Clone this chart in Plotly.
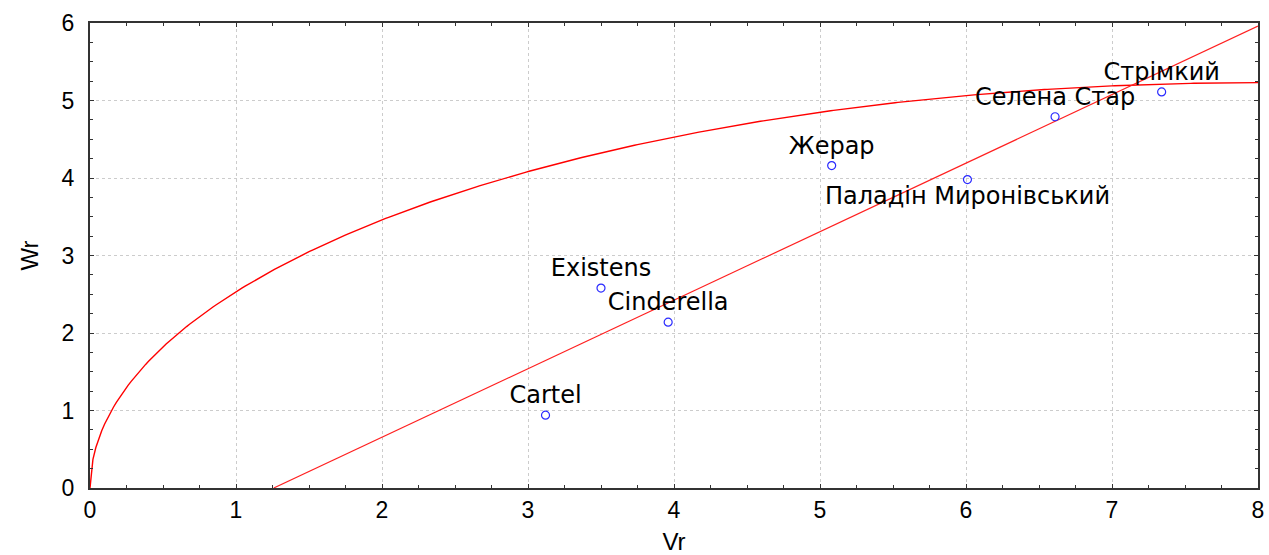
import numpy as np
import plotly.graph_objects as go

# Data
names = ["Cartel", "Existens", "Cinderella", "Жерар", "Паладін Миронівський", "Селена Стар", "Стрімкий"]
vr = [3.12, 3.50, 3.96, 5.08, 6.01, 6.61, 7.34]
wr = [0.94, 2.58, 2.14, 4.16, 3.98, 4.79, 5.11]
label_pos = ["top center", "top center", "top center", "top center", "bottom center", "top center", "top center"]

# Limiting curve parameters (quarter ellipse as drawn)
curve_vr_max = 8.0
curve_wr_max = 5.23

x_ticks = [0, 1, 2, 3, 4, 5, 6, 7, 8]
y_ticks = [0, 1, 2, 3, 4, 5, 6]

# Regression line from the points
slope, intercept = np.polyfit(vr, wr, 1)
x0 = -intercept / slope
lx = np.array([x0, 8.0])
ly = slope * lx + intercept

cx = np.linspace(0, curve_vr_max, 400)
cy = curve_wr_max * np.sqrt(np.clip(1 - ((cx - curve_vr_max) / curve_vr_max) ** 2, 0, None))

fig = go.Figure()
fig.add_trace(go.Scatter(x=cx, y=cy, mode="lines", line=dict(color="#ff0000", width=1.4),
                         hoverinfo="skip", showlegend=False))
fig.add_trace(go.Scatter(x=lx, y=ly, mode="lines", line=dict(color="#ff2020", width=1.2),
                         hoverinfo="skip", showlegend=False))
fig.add_trace(go.Scatter(x=vr, y=wr, mode="markers+text", text=names, textposition=label_pos,
                         marker=dict(symbol="circle-open", size=8, color="#2a2aff", line=dict(width=1.2)),
                         textfont=dict(family="DejaVu Sans", size=24, color="black"),
                         showlegend=False, cliponaxis=False))

axis_common = dict(
    showline=True, linecolor="#333333", linewidth=2, mirror="allticks",
    showgrid=True, gridcolor="#cccccc", griddash="dot", gridwidth=1,
    zeroline=False, ticks="inside", ticklen=4, tickcolor="#333333",
    minor=dict(dtick=0.25, ticks="inside", ticklen=3, tickcolor="#333333", showgrid=False),
    tickfont=dict(family="Liberation Sans", size=23, color="black"),
    automargin=False,
)

fig.update_xaxes(range=[0, 8], tickvals=x_ticks, ticklabelstandoff=0,
                 title=dict(text="Vr", font=dict(family="Liberation Sans", size=24, color="black"), standoff=17),
                 **axis_common)
fig.update_yaxes(range=[0, 6], tickvals=y_ticks, ticklabelstandoff=9,
                 title=dict(text="Wr", font=dict(family="Liberation Sans", size=24, color="black"), standoff=16),
                 **axis_common)

fig.update_layout(
    width=1269, height=555,
    margin=dict(l=90, r=11, t=23, b=67),
    plot_bgcolor="white", paper_bgcolor="white",
)

# remove the default page margin so the figure fills the window exactly
fig.write_html("out.html", config={"displayModeBar": False},
               post_script="document.body.style.margin='0';document.body.style.overflow='hidden';")
